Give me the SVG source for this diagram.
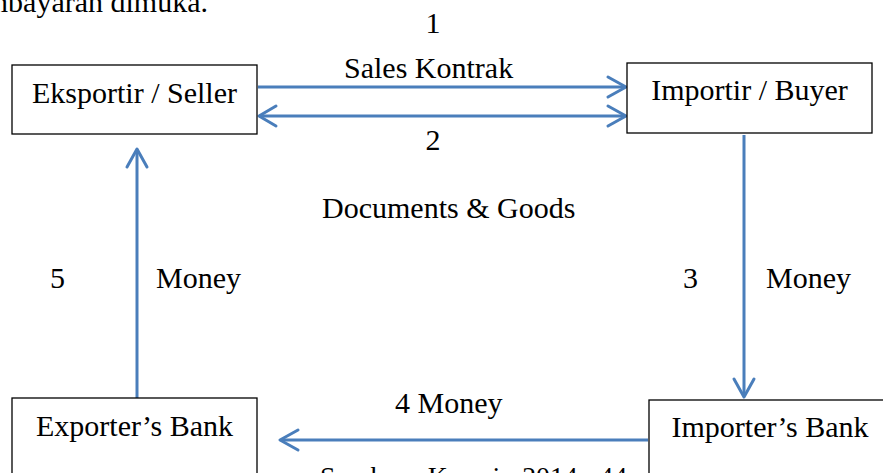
<svg xmlns="http://www.w3.org/2000/svg" width="883" height="473" viewBox="0 0 883 473">
<style>
text{font-family:"Liberation Serif","Times New Roman",serif;font-size:30px;fill:#000}
.box{fill:#fff;stroke:#000;stroke-width:1.3}
.ln{fill:none;stroke:#4a7ebb;stroke-width:3}
.hd{fill:none;stroke:#4a7ebb;stroke-width:3;stroke-linecap:round;stroke-linejoin:round}
</style>
<rect width="883" height="473" fill="#fff"/>
<text x="208" y="12" text-anchor="end">mbayaran dimuka.</text>
<g id="connectors">
<line class="ln" x1="258" y1="87" x2="625" y2="87"/>
<polyline class="hd" points="608,77 626,87 608,97"/>
<line class="ln" x1="259" y1="116" x2="625" y2="116"/>
<polyline class="hd" points="276,106 259,116 276,126"/>
<polyline class="hd" points="608,106 626,116 608,126"/>
<line class="ln" x1="744" y1="135" x2="744" y2="396"/>
<polyline class="hd" points="734,379 744,397 754,379"/>
<line class="ln" x1="648" y1="440" x2="281" y2="440"/>
<polyline class="hd" points="298,430 280,440 298,450"/>
<line class="ln" x1="137" y1="398" x2="137" y2="150"/>
<polyline class="hd" points="127,167 137,149 147,167"/>
</g>
<g id="labels">
<text x="433" y="33" text-anchor="middle">1</text>
<text x="344" y="78">Sales Kontrak</text>
<text x="433" y="150" text-anchor="middle">2</text>
<text x="322" y="218">Documents &amp; Goods</text>
<text x="50" y="288">5</text>
<text x="156" y="288">Money</text>
<text x="683" y="288">3</text>
<text x="766" y="288">Money</text>
<text x="395" y="413">4 Money</text>
</g>
<g id="eksportir">
<rect class="box" x="12" y="65" width="245" height="69"/>
<text x="134.5" y="103" text-anchor="middle">Eksportir / Seller</text>
</g>
<g id="importir">
<rect class="box" x="627" y="63" width="245" height="70"/>
<text x="749.5" y="100" text-anchor="middle">Importir / Buyer</text>
</g>
<g id="exporters-bank">
<rect class="box" x="12" y="398" width="245" height="90"/>
<text x="134.5" y="436" text-anchor="middle">Exporter’s Bank</text>
</g>
<g id="importers-bank">
<rect class="box" x="649" y="400" width="260" height="90"/>
<text x="770" y="437" text-anchor="middle">Importer’s Bank</text>
</g>
<text x="320" y="486" textLength="307" lengthAdjust="spacingAndGlyphs" style="font-size:27px">Sumber : Kasmir, 2014 : 44</text>
</svg>
